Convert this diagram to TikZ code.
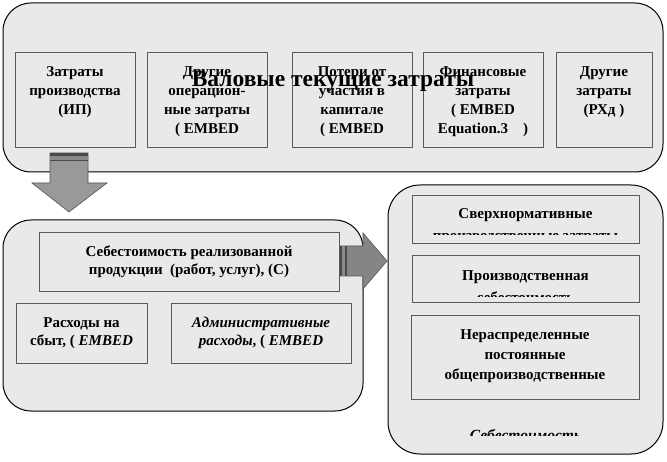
\documentclass[tikz,border=0pt]{standalone}
\usepackage{fontspec}
\setmainfont{Liberation Serif}
\definecolor{boxfill}{HTML}{E9E9E9}
\definecolor{innerline}{HTML}{5A5A5A}
\definecolor{arrowfill}{HTML}{999999}
\definecolor{arrowfilltwo}{HTML}{858585}
\definecolor{arrowline}{HTML}{555555}
\definecolor{stripedark}{HTML}{4A4A4A}
\definecolor{stripemid}{HTML}{8A8A8A}
\begin{document}
\begin{tikzpicture}[x=1pt,y=-1pt,
  every node/.style={font=\fontsize{15}{19}\selectfont\bfseries, inner sep=0pt, outer sep=0pt},
  bigbox/.style={draw=black, line width=1pt, fill=boxfill, rounded corners=28pt, anchor=north west},
  innerbox/.style={draw=innerline, line width=0.8pt, fill=boxfill, anchor=north west},
  txt/.style={align=center},
  blockarrow/.style={fill=#1, draw=arrowline, line width=0.6pt}
]
\useasboundingbox (0,0) rectangle (667,462);

% ---------- top group ----------
\node[bigbox, minimum width=660pt, minimum height=169pt] (top) at (3,3) {};
\node[innerbox, minimum width=120pt, minimum height=95pt] (b1) at (15,52) {};
\node[innerbox, minimum width=120pt, minimum height=95pt] (b2) at (147,52) {};
\node[innerbox, minimum width=120pt, minimum height=95pt] (b3) at (292,52) {};
\node[innerbox, minimum width=120pt, minimum height=95pt] (b4) at (423,52) {};
\node[innerbox, minimum width=96pt, minimum height=95pt] (b5) at (556,52) {};

\node[txt, anchor=north] (t1) at (b1.center |- 0,67) {Затраты\\производства\\(ИП)};
\node[txt, anchor=north] (t2) at (b2.center |- 0,67) {Другие\\операцион-\\ные затраты\\( EMBED};
\node[txt, anchor=north] (t3) at (b3.center |- 0,67) {Потери от\\участия в\\капитале\\( EMBED};
\node[txt, anchor=north] (t4) at (b4.center |- 0,67) {Финансовые\\затраты\\( EMBED\\Equation.3 \ \ \ )};
\node[txt, anchor=north] (t5) at (b5.center |- 0,67) {Другие\\затраты\\(РХд )};

\node[anchor=base, font=\fontsize{23.5}{26}\selectfont\bfseries] (title) at (333,87) {Валовые текущие затраты};

% ---------- down arrow ----------
\path[blockarrow=arrowfill] (50,153) -- (88,153) -- (88,183) -- (107,183) -- (69,212) -- (32,183) -- (50,183) -- cycle;
\fill[stripedark] (50,153) rectangle (88,156.5);
\fill[stripemid] (50,156.5) rectangle (88,160);
\fill[stripedark] (50,160) rectangle (88,161.5);

% ---------- lower left group ----------
\node[bigbox, minimum width=360pt, minimum height=191pt] (low) at (3,220) {};
\node[innerbox, minimum width=300pt, minimum height=59pt] (c) at (39,232) {};
\node[txt, font=\fontsize{15}{18}\selectfont\bfseries] (ct) at (c.center) {Себестоимость реализованной\\продукции \ (работ, услуг), (С)};
\node[innerbox, minimum width=131pt, minimum height=60pt] (sb) at (16,303) {};
\node[txt, font=\fontsize{15}{18}\selectfont\bfseries] (sbt) at (sb.center) {Расходы на\\сбыт, ( \textit{EMBED}};
\node[innerbox, minimum width=180pt, minimum height=60pt] (ad) at (171,303) {};
\node[txt, font=\fontsize{15}{18}\selectfont\bfseries] (adt) at (ad.center) {\textit{Административные}\\\textit{расходы}, ( \textit{EMBED}};

% ---------- right group ----------
\node[bigbox, minimum width=275pt, minimum height=269pt, rounded corners=32pt] (rt) at (388,185) {};
\node[innerbox, minimum width=227pt, minimum height=48pt] (ra) at (412,195) {};
\node[anchor=base] (rat) at (ra.center |- 0,218.5) {Сверхнормативные};
\begin{scope}
  \clip (412,226) rectangle (639,234.5);
  \node[anchor=base] (rat2) at (ra.center |- 0,240.5) {производственные затраты};
\end{scope}
\node[innerbox, minimum width=227pt, minimum height=47.5pt] (rb) at (412,255) {};
\node[anchor=base] (rbt) at (rb.center |- 0,281) {Производственная};
\begin{scope}
  \clip (412,286) rectangle (639,296.5);
  \node[anchor=base] (rbt2) at (rb.center |- 0,303) {себестоимость};
\end{scope}
\node[innerbox, minimum width=228pt, minimum height=84pt] (rc) at (411,315) {};
\node[txt, anchor=north, font=\fontsize{15}{20}\selectfont\bfseries] (rct) at (rc.center |- 0,330) {Нераспределенные\\постоянные\\общепроизводственные};
\begin{scope}
  \clip (400,420) rectangle (650,435.5);
  \node[anchor=base, font=\fontsize{15.5}{18}\selectfont\bfseries\itshape] (rs) at (rt.center |- 0,440) {Себестоимость};
\end{scope}

% ---------- right arrow ----------
\path[blockarrow=arrowfilltwo] (340,246) -- (363,246) -- (363,233) -- (387,261) -- (363,289) -- (363,276) -- (340,276) -- cycle;
\fill[stripedark] (340,246) rectangle (342,276);
\fill[stripemid] (342,246) rectangle (345,276);
\fill[stripedark] (345,246) rectangle (346.5,276);
\end{tikzpicture}
\end{document}
